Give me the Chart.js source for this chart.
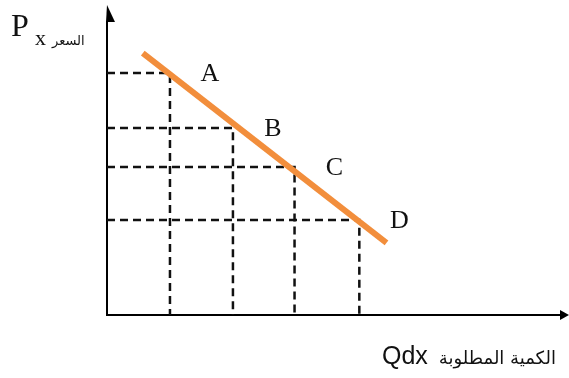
<!DOCTYPE html>
<html>
<head>
<meta charset="utf-8">
<script src="https://cdn.jsdelivr.net/npm/chart.js@4/dist/chart.umd.min.js"></script>
<style>
  html, body { margin: 0; padding: 0; background: #fff; }
  #wrap { width: 569px; height: 378px; position: relative; }
</style>
</head>
<body>
<div id="wrap"><canvas id="demandChart"></canvas></div>
<script>
// demand schedule, axes run 0..100 in arbitrary units
const pointNames = ['A', 'B', 'C', 'D'];
const quantities = [13.9, 27.8, 41.4, 55.7];
const prices = [82.6, 63.8, 50.5, 32.4];
// the drawn demand line runs a bit past A and D
const curveX = [7.9, 61.7];
const curveY = [89.4, 24.6];

const axisMax = 100;
const priceLabel = 'P';
const priceSub = 'x';
const priceArabic = 'السعر';
const qtyArabic = 'الكمية المطلوبة';
const qtyLabel = 'Qdx';

// --- datasets ---
const datasets = [];

datasets.push({
    label: 'demand',
    data: curveX.map((x, i) => ({ x: x, y: curveY[i] })),
    borderColor: '#F28E3C',
    borderWidth: 6,
    pointRadius: 0,
    showLine: true,
    order: 0
});

// dashed guides from each point to both axes
quantities.forEach((q, i) => {
    datasets.push({
        label: 'guide ' + pointNames[i],
        data: [{ x: 0, y: prices[i] }, { x: q, y: prices[i] }, { x: q, y: 0 }],
        borderColor: '#111',
        borderWidth: 2.5,
        borderDash: [8, 5],
        pointRadius: 0,
        showLine: true,
        order: 1
    });
});

// arrows, point letters and axis titles
const annotate = {
    id: 'annotate',
    afterDraw(chart) {
        const { ctx, chartArea: a, scales: { x, y } } = chart;
        ctx.save();

        // arrow heads
        ctx.fillStyle = '#000';
        ctx.beginPath();
        ctx.moveTo(a.left, a.top - 17);
        ctx.lineTo(a.left + 8, a.top);
        ctx.lineTo(a.left - 1, a.top);
        ctx.closePath();
        ctx.fill();
        ctx.beginPath();
        ctx.moveTo(a.right + 9, a.bottom);
        ctx.lineTo(a.right, a.bottom - 5);
        ctx.lineTo(a.right, a.bottom + 5);
        ctx.closePath();
        ctx.fill();

        // A..D
        ctx.font = '26px "Liberation Serif", serif';
        ctx.textAlign = 'center';
        ctx.textBaseline = 'middle';
        ctx.fillStyle = '#111';
        pointNames.forEach((n, i) => {
            ctx.fillText(n, x.getPixelForValue(quantities[i]) + 40, y.getPixelForValue(prices[i]) + 1);
        });

        // price title
        ctx.textAlign = 'left';
        ctx.textBaseline = 'alphabetic';
        ctx.font = '32px "Liberation Serif", serif';
        ctx.fillText(priceLabel, 11, 36);
        ctx.font = '22px "Liberation Serif", serif';
        ctx.fillText(priceSub, 35, 45);
        ctx.font = '13px "DejaVu Sans", sans-serif';
        ctx.fillText(priceArabic, 52, 45);

        // quantity title, arabic reads right to left so Qdx sits on the left
        ctx.textAlign = 'right';
        ctx.font = '18px "DejaVu Sans", sans-serif';
        ctx.fillText(qtyArabic, 556, 364);
        const w = ctx.measureText(qtyArabic).width;
        ctx.font = '25px "Liberation Sans", Arial, sans-serif';
        ctx.fillText(qtyLabel, 556 - w - 11, 364);

        ctx.restore();
    }
};

new Chart(document.getElementById('demandChart'), {
    type: 'scatter',
    data: { datasets: datasets },
    options: {
        responsive: true,
        maintainAspectRatio: false,
        animation: false,
        layout: { padding: { left: 107, top: 22, right: 9, bottom: 63 } },
        plugins: { legend: { display: false }, tooltip: { enabled: false } },
        scales: {
            x: {
                min: 0, max: axisMax,
                grid: { display: false },
                ticks: { display: false },
                border: { display: true, color: '#000', width: 2 },
                afterFit(s) { s.height = 0; }
            },
            y: {
                min: 0, max: axisMax,
                grid: { display: false },
                ticks: { display: false },
                border: { display: true, color: '#000', width: 2 },
                afterFit(s) { s.width = 0; }
            }
        }
    },
    plugins: [annotate]
});
</script>
</body>
</html>
